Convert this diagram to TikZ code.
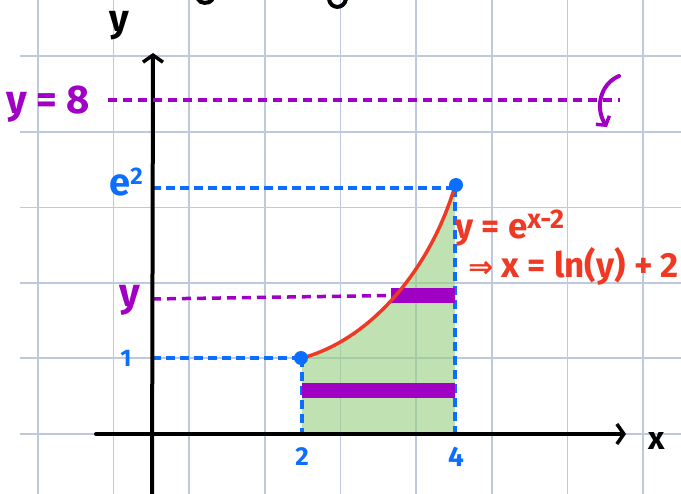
\documentclass[tikz,border=0pt]{standalone}
\usepackage{fontspec}
\setmainfont{Fira Sans}
\newfontfamily\dv{DejaVu Sans}
\usetikzlibrary{arrows.meta}
\definecolor{gridc}{RGB}{190,201,222}
\definecolor{purp}{RGB}{160,0,196}
\definecolor{blu}{RGB}{12,110,255}
\definecolor{redc}{RGB}{238,58,36}
\definecolor{grn}{RGB}{150,207,127}
\tikzset{
  gridline/.style={draw=gridc,line width=1.4pt},
  axis/.style={line width=4pt,line cap=round,-{Straight Barb[length=7pt,width=20pt,line width=3.5pt]}},
  bluedash/.style={draw=blu,line width=3.5pt,dash pattern=on 9pt off 5pt},
  purpdash/.style={draw=purp,line width=3.5pt,dash pattern=on 9pt off 6pt},
  bar/.style={draw=purp,line width=15pt},
  dot/.style={circle,fill=blu,inner sep=0pt,minimum size=14pt},
  lbl/.style={inner sep=0pt},
}
\begin{document}
\begin{tikzpicture}[x=1pt,y=-1pt]
\useasboundingbox (0,0) rectangle (681,494);
% grid
\foreach \gx in {38,113.5,189,265,340.5,416,492,567.5,643}
  \draw[gridline] (\gx,0) -- (\gx,494);
\foreach \gy in {56,132,207.5,283,358,434}
  \draw[gridline] (20,\gy) -- (681,\gy);
% fragments at the top
\draw[line width=4pt,line cap=round] (198,-1) .. controls (200,4) and (209,4) .. (212,0);
\draw[line width=4pt,line cap=round] (329,-1) .. controls (330,9) and (344,10) .. (346,-1);
% coordinates
\coordinate (O) at (152,434);
\coordinate (ytop) at (153,53);
\coordinate (ybot) at (152,494);
\coordinate (xl) at (96,434);
\coordinate (xr) at (626,434);
\coordinate (A) at (302,358);
\coordinate (B) at (455,186);
\coordinate (A0) at (302,434);
\coordinate (B0) at (455,434);
\coordinate (Ay) at (152,358);
\coordinate (By) at (152,188);
\coordinate (B1) at (455,188);
% green region
\fill[grn,opacity=0.6] (A0) -- (A) .. controls (370,340) and (430,270) .. (B) -- (B0) -- cycle;
% dashed helpers
\draw[bluedash] (By) -- (B1);
\draw[bluedash] (B1) -- (B0);
\draw[bluedash] (Ay) -- (A);
\draw[bluedash] (A) -- (A0);
% purple bars
\coordinate (bar1l) at (302,390.5);
\coordinate (bar1r) at (455,390.5);
\coordinate (bar2l) at (391,295.5);
\coordinate (bar2r) at (455,295.5);
\draw[bar] (bar1l) -- (bar1r);
\draw[bar] (bar2l) -- (bar2r);
\coordinate (yl) at (152,299);
\draw[purpdash] (yl) -- (bar2l);
% curve
\draw[redc,line width=3.5pt,line cap=round] (A) .. controls (370,340) and (430,270) .. (B);
% axes
\draw[axis] (ybot) -- (ytop);
\draw[axis] (xl) -- (xr);
% y = 8 line
\coordinate (l8a) at (108,100);
\coordinate (l8b) at (620,100);
\draw[purpdash] (l8a) -- (l8b);
\coordinate (rs) at (619,76);
\coordinate (re) at (607,127);
\draw[purp,line width=4pt,line cap=round,-{Straight Barb[length=6pt,width=16pt,line width=3.5pt]}] (rs) .. controls (600,84) and (595,108) .. (re);
% dots
\node[dot] (dA) at (301,358) {};
\node[dot] (dB) at (456,185) {};
% labels
\node[lbl,font=\fontsize{38}{38}\selectfont\bfseries] (ylab) at (119,26) {y};
\node[lbl,font=\fontsize{32}{32}\selectfont\bfseries] (xlab) at (657,441) {x};
\node[lbl,anchor=west,text=purp,font=\fontsize{40}{40}\selectfont\bfseries] (y8) at (6,104) {y = 8};
\node[lbl,text=blu,font=\fontsize{38}{38}\selectfont\bfseries] (e2) at (126,182) {e\raisebox{11pt}{\fontsize{24}{24}\selectfont 2}};
\node[lbl,text=purp,font=\fontsize{40}{40}\selectfont\bfseries] (yv) at (130,300) {y};
\node[lbl,text=blu,font=\fontsize{24}{24}\selectfont\bfseries] (one) at (126,358) {1};
\node[lbl,text=blu,font=\fontsize{26}{26}\selectfont\bfseries] (two) at (302,457) {2};
\node[lbl,text=blu,font=\fontsize{28}{28}\selectfont\bfseries] (four) at (456,457) {4};
\node[lbl,anchor=west,text=redc,font=\fontsize{35}{35}\selectfont\bfseries] (eq1) at (455,228) {y = e\raisebox{10pt}{\fontsize{27}{27}\selectfont x-2}};
\node[lbl,anchor=west,text=redc,font=\fontsize{35}{35}\selectfont\bfseries] (eq2) at (468,266) {{\dv\bfseries\fontsize{30}{30}\selectfont ⇒} x = ln(y) + 2};
\end{tikzpicture}
\end{document}
